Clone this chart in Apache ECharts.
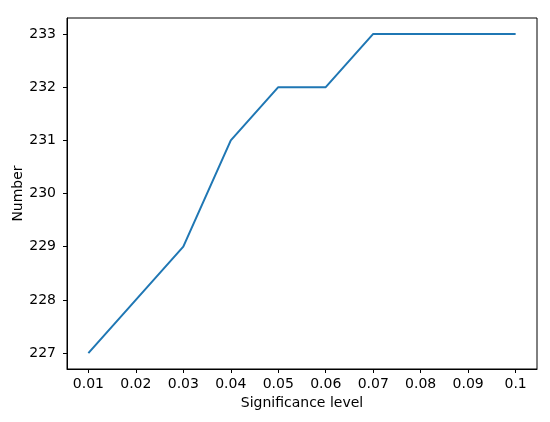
<!DOCTYPE html>
<html>
<head>
<meta charset="utf-8">
<script src="https://cdn.jsdelivr.net/npm/echarts@6/dist/echarts.min.js"></script>
<style>
  html, body { margin: 0; padding: 0; background: #fff; }
  #chart { width: 550px; height: 422px; }
</style>
</head>
<body>
<div id="chart"></div>
<script>
// data
var levels = [0.01, 0.02, 0.03, 0.04, 0.05, 0.06, 0.07, 0.08, 0.09, 0.1];
var numbers = [227, 228, 229, 231, 232, 232, 233, 233, 233, 233];
var xTicks = [0.01, 0.02, 0.03, 0.04, 0.05, 0.06, 0.07, 0.08, 0.09, 0.1];
var yTicks = [227, 228, 229, 230, 231, 232, 233];

var chart = echarts.init(document.getElementById("chart"));
var font = "DejaVu Sans";

var option = {
  animation: false,
  grid: {
    left: 67,
    right: 13,
    top: 18,
    bottom: 53,
    outerBoundsMode: "none",
    containLabel: false,
    show: true,
    borderColor: "#000",
    borderWidth: 1,
    backgroundColor: "#fff"
  },
  xAxis: {
    type: "value",
    min: 0.0055,
    max: 0.1045,
    name: "Significance level",
    nameLocation: "middle",
    nameGap: 27,
    nameMoveOverlap: false,
    nameTextStyle: { color: "#000", fontFamily: font, fontSize: 14 },
    axisLine: { show: true, onZero: false, lineStyle: { color: "#000", width: 1 } },
    axisTick: { show: true, length: 4, customValues: xTicks, lineStyle: { color: "#000" } },
    axisLabel: {
      customValues: xTicks,
      margin: 8,
      color: "#000",
      fontFamily: font,
      fontSize: 14,
      formatter: function (v) { return String(+v.toFixed(2)); }
    },
    splitLine: { show: false }
  },
  yAxis: {
    type: "value",
    min: 226.7,
    max: 233.3,
    name: "Number",
    nameLocation: "middle",
    nameGap: 42,
    nameMoveOverlap: false,
    nameRotate: 90,
    nameTextStyle: { color: "#000", fontFamily: font, fontSize: 14 },
    axisLine: { show: true, onZero: false, lineStyle: { color: "#000", width: 1 } },
    axisTick: { show: true, length: 4, customValues: yTicks, lineStyle: { color: "#000" } },
    axisLabel: {
      customValues: yTicks,
      margin: 11,
      color: "#000",
      fontFamily: font,
      fontSize: 14
    },
    splitLine: { show: false }
  },
  series: [
    {
      type: "line",
      data: levels.map(function (x, i) { return [x, numbers[i]]; }),
      symbol: "none",
      lineStyle: { color: "#1f77b4", width: 2 },
      itemStyle: { color: "#1f77b4" }
    }
  ]
};
chart.setOption(option);
</script>
</body>
</html>
